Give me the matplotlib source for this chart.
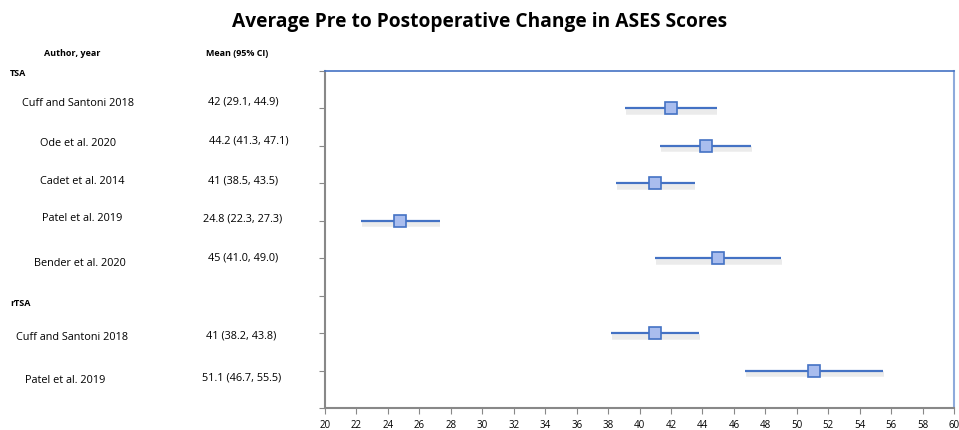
import matplotlib.pyplot as plt
import matplotlib.patheffects as pe
import numpy as np

# data
authors = ["Cuff and Santoni 2018", "Ode et al. 2020", "Cadet et al. 2014",
           "Patel et al. 2019", "Bender et al. 2020",
           "Cuff and Santoni 2018", "Patel et al. 2019"]
ci_labels = ["42 (29.1, 44.9)", "44.2 (41.3, 47.1)", "41 (38.5, 43.5)",
             "24.8 (22.3, 27.3)", "45 (41.0, 49.0)",
             "41 (38.2, 43.8)", "51.1 (46.7, 55.5)"]
means = [42, 44.2, 41, 24.8, 45, 41, 51.1]
lower = [39.1, 41.3, 38.5, 22.3, 41.0, 38.2, 46.7]
upper = [44.9, 47.1, 43.5, 27.3, 49.0, 43.8, 55.5]
rows = [1, 2, 3, 4, 5, 7, 8]  # row slots on the y axis (0..9, top to bottom)

# label positions in figure pixels (x_center, y_from_top)
author_xy = [(78, 103), (78, 143), (82, 182), (82, 219), (80, 263), (72, 337), (65, 381)]
mean_xy = [(243, 102), (249, 141), (243, 181), (243, 219), (243, 258), (241, 336), (242, 378)]

W, H = 959, 431
fig = plt.figure(figsize=(W / 100, H / 100), dpi=100)
plt.rcParams['font.family'] = ['Open Sans', 'DejaVu Sans']

ax = fig.add_axes([325 / W, 1 - 409 / H, (954 - 325) / W, (409 - 72) / H])

blue = "#4472c4"
for m, lo, hi, r in zip(means, lower, upper, rows):
    ax.plot([lo, hi], [r, r], color=blue, lw=1.6, solid_capstyle='butt',
            path_effects=[pe.SimpleLineShadow(offset=(0.5, -2.5), shadow_color='#c8c8c8', alpha=0.35,
                                              linewidth=4),
                          pe.Normal()])
    ax.plot(m, r, marker='s', ms=8, mfc="#a9bdee", mec=blue, mew=1.2)

ax.set_xlim(20, 60)
ax.set_ylim(9, 0)
ax.set_xticks(np.arange(20, 61, 2))
ax.set_yticks(np.arange(0, 10, 1))
ax.set_yticklabels([])
ax.tick_params(axis='x', labelsize=7, length=4, color='#888888', pad=4)
ax.tick_params(axis='y', length=4, color='#888888')
ax.spines['left'].set_color('#888888')
ax.spines['bottom'].set_color('#888888')
ax.spines['left'].set_linewidth(1.5)
ax.spines['bottom'].set_linewidth(1.5)
ax.spines['top'].set_color(blue)
ax.spines['top'].set_linewidth(1.2)
ax.spines['right'].set_color('#8eaadb')
ax.spines['right'].set_linewidth(1.5)

fig.text(480 / W, 1 - 22 / H, "Average Pre to Postoperative Change in ASES Scores",
         ha='center', va='center', fontsize=13.8, fontweight='bold')
fig.text(72 / W, 1 - 53 / H, "Author, year", ha='center', va='center', fontsize=6.5, fontweight='bold')
fig.text(237 / W, 1 - 53 / H, "Mean (95% CI)", ha='center', va='center', fontsize=6.5, fontweight='bold')
fig.text(10 / W, 1 - 74 / H, "TSA", ha='left', va='center', fontsize=6.5, fontweight='bold')
fig.text(10 / W, 1 - 303 / H, "rTSA", ha='left', va='center', fontsize=6.5, fontweight='bold')

for name, (x, y) in zip(authors, author_xy):
    fig.text(x / W, 1 - y / H, name, ha='center', va='center', fontsize=7.8)
for lab, (x, y) in zip(ci_labels, mean_xy):
    fig.text(x / W, 1 - y / H, lab, ha='center', va='center', fontsize=7.8)

fig.savefig("out.png", dpi=100)
